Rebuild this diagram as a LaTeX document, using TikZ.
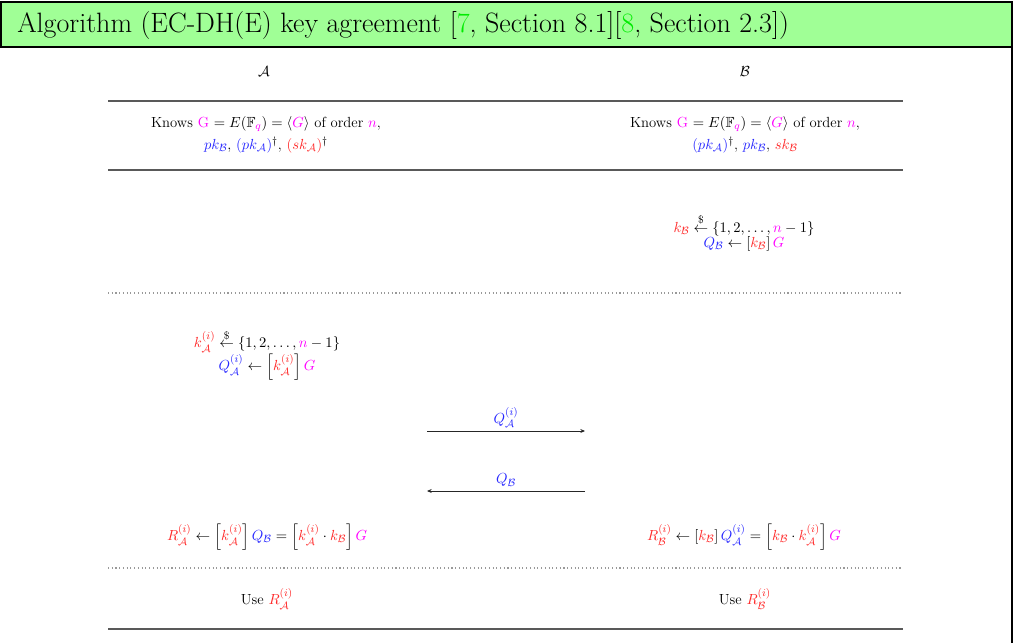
\documentclass[tikz,border=0pt]{standalone}
\usepackage{amsmath,amssymb}
\usetikzlibrary{arrows.meta}
\definecolor{myred}{RGB}{255,40,40}
\definecolor{myblue}{RGB}{40,40,255}
\definecolor{mymag}{RGB}{255,0,255}
\definecolor{mygreen}{RGB}{0,235,0}
\definecolor{titlebg}{RGB}{160,255,150}
\newcommand\rd[1]{\textcolor{myred}{#1}}
\newcommand\bl[1]{\textcolor{myblue}{#1}}
\newcommand\mg[1]{\textcolor{mymag}{#1}}
\newcommand\cA{\mathcal{A}}
\newcommand\cB{\mathcal{B}}
\begin{document}
\begin{tikzpicture}[x=0.75pt,y=-0.75pt,
  txt/.style={font=\fontsize{11}{16.5}\selectfont, align=center, inner sep=0pt},
  rule/.style={draw=black!65, line width=1pt},
  dotrule/.style={draw=black!40, dotted, line width=0.8pt},
  msg/.style={-{Stealth[length=3.5pt,width=3pt]}, line width=0.6pt, draw=black!85}]
\useasboundingbox (0,0) rectangle (1014,643);
% frame and title
\fill[titlebg] (0,2) rectangle (1012,47);
\draw[line width=2.2pt] (1,47) -- (1,2) -- (1012,2) -- (1012,643);
\draw[line width=2.2pt] (0,47) -- (1013,47);
\node[anchor=west, inner sep=0pt, font=\fontsize{21}{24}\selectfont] (title) at (17,26)
  {Algorithm (EC-DH(E) key agreement [\textcolor{mygreen}{7}, Section 8.1][\textcolor{mygreen}{8}, Section 2.3])};
% headers
\node[txt] (hA) at (264,72) {$\cA$};
\node[txt] (hB) at (745,72) {$\cB$};
% rules
\draw[rule] (108,101) -- (903,101);
\draw[rule] (108,170) -- (903,170);
\draw[dotrule] (108,293) -- (903,293);
\draw[dotrule] (108,568) -- (903,568);
\draw[rule] (108,629) -- (903,629);
% knows
\node[txt] (knA) at (266,135) {Knows \mg{G} $= E(\mathbb{F}_{\mg{q}}) = \langle \mg{G}\rangle$ of order $\mg{n}$,\\
  $\bl{pk_{\cB}}$, $\bl{(pk_{\cA})}^\dagger$, $\rd{(sk_{\cA})}^\dagger$};
\node[txt] (knB) at (745,135) {Knows \mg{G} $= E(\mathbb{F}_{\mg{q}}) = \langle \mg{G}\rangle$ of order $\mg{n}$,\\
  $\bl{(pk_{\cA})}^\dagger$, $\bl{pk_{\cB}}$, $\rd{sk_{\cB}}$};
% B ephemeral
\node[txt] (kB) at (744,225) {$\rd{k_{\cB}} \overset{\$}{\leftarrow} \{1,2,\ldots,\mg{n}-1\}$};
\node[txt] (QB) at (744,244) {$\bl{Q_{\cB}} \leftarrow [\rd{k_{\cB}}]\,\mg{G}$};
% A ephemeral
\node[txt] (kA) at (267,341) {$\rd{k_{\cA}^{(i)}} \overset{\$}{\leftarrow} \{1,2,\ldots,\mg{n}-1\}$};
\node[txt] (QA) at (267,367) {$\bl{Q_{\cA}^{(i)}} \leftarrow \left[\rd{k_{\cA}^{(i)}}\right]\mg{G}$};
% messages
\coordinate (m1s) at (427,431);
\coordinate (m1e) at (585,431);
\coordinate (m2s) at (585,491);
\coordinate (m2e) at (427,491);
\draw[msg] (m1s) -- node[above=2pt, txt] (l1) {$\bl{Q_{\cA}^{(i)}}$} (m1e);
\draw[msg] (m2s) -- node[above=3pt, txt] (l2) {$\bl{Q_{\cB}}$} (m2e);
% shared secrets
\node[txt] (RA) at (267,537) {$\rd{R_{\cA}^{(i)}} \leftarrow \left[\rd{k_{\cA}^{(i)}}\right]\bl{Q_{\cB}} = \left[\rd{k_{\cA}^{(i)}}\cdot\rd{k_{\cB}}\right]\mg{G}$};
\node[txt] (RB) at (744,537) {$\rd{R_{\cB}^{(i)}} \leftarrow [\rd{k_{\cB}}]\,\bl{Q_{\cA}^{(i)}} = \left[\rd{k_{\cB}}\cdot\rd{k_{\cA}^{(i)}}\right]\mg{G}$};
% use
\node[txt] (uA) at (267,599) {Use $\rd{R_{\cA}^{(i)}}$};
\node[txt] (uB) at (745,599) {Use $\rd{R_{\cB}^{(i)}}$};
\end{tikzpicture}
\end{document}
